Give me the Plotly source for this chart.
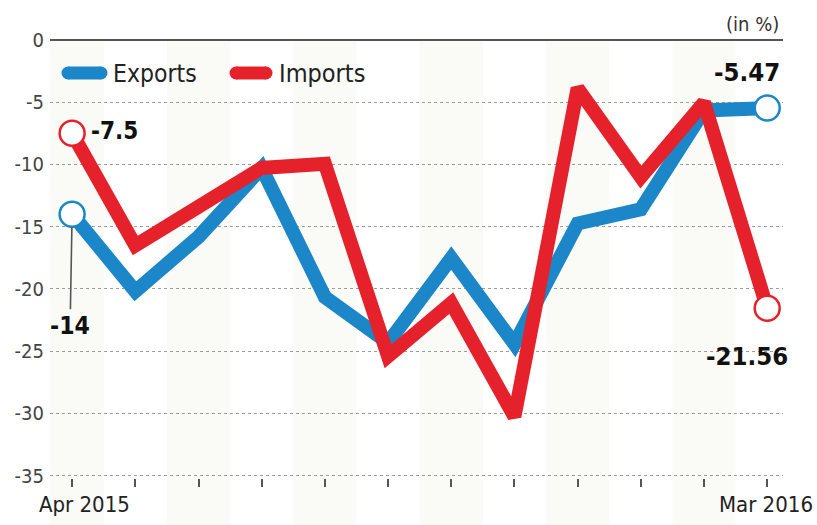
import plotly.graph_objects as go

# Monthly year-on-year growth of merchandise trade, in per cent
months = ["Apr 2015", "May 2015", "Jun 2015", "Jul 2015", "Aug 2015", "Sep 2015",
          "Oct 2015", "Nov 2015", "Dec 2015", "Jan 2016", "Feb 2016", "Mar 2016"]
exports = [-14.0, -20.19, -15.82, -10.3, -20.66, -24.33, -17.53, -24.43, -14.75, -13.6, -5.66, -5.47]
imports = [-7.5, -16.52, -13.4, -10.28, -9.95, -25.42, -21.15, -30.26, -3.88, -11.01, -5.03, -21.56]
y_ticks = [0, -5, -10, -15, -20, -25, -30, -35]

BLUE = "#1b87c9"
RED = "#e5222b"
FONT = "DejaVu Sans Condensed, Liberation Sans Narrow, Arial Narrow, sans-serif"

W, H = 817, 525
ML, MR, MT, MB = 50, 34, 38, 47
PW, PH = W - ML - MR, H - MT - MB


def px(x):
    """Horizontal pixel -> paper fraction."""
    return (x - ML) / PW


def py(y):
    """Vertical pixel -> paper fraction."""
    return (H - MB - y) / PH


idx = list(range(len(months)))
fig = go.Figure()

# Export and import growth lines (imports drawn on top)
fig.add_trace(go.Scatter(x=idx, y=exports, mode="lines", name="Exports",
                         line=dict(color=BLUE, width=14), hoverinfo="skip"))
fig.add_trace(go.Scatter(x=idx, y=imports, mode="lines", name="Imports",
                         line=dict(color=RED, width=14), hoverinfo="skip"))

# Hollow circles on the first and last month of each series
for series, col in ((exports, BLUE), (imports, RED)):
    fig.add_trace(go.Scatter(x=[idx[0], idx[-1]], y=[series[0], series[-1]], mode="markers",
                             marker=dict(symbol="circle", size=25, color="white",
                                         line=dict(color=col, width=2.5)),
                             hoverinfo="skip", showlegend=False))

shapes = []
# Faint alternating month columns
for i in idx[::2]:
    shapes.append(dict(type="rect", xref="x", yref="paper", x0=i - 0.5, x1=i + 0.5,
                       y0=py(H), y1=py(40), fillcolor="#fafaf7", line=dict(width=0),
                       layer="below"))

# Hand-drawn legend swatches with rounded ends
for x0, x1, col in ((62, 107, BLUE), (230, 272, RED)):
    yy = py(73)
    shapes.append(dict(type="line", xref="paper", yref="paper", x0=px(x0 + 6), x1=px(x1 - 6),
                       y0=yy, y1=yy, line=dict(color=col, width=13)))
    for xe in (x0 + 6, x1 - 6):
        shapes.append(dict(type="circle", xref="paper", yref="paper", xsizemode="pixel",
                           ysizemode="pixel", xanchor=px(xe), yanchor=yy,
                           x0=-6.5, x1=6.5, y0=-6.5, y1=6.5, fillcolor=col,
                           line=dict(width=0)))

annotations = [
    dict(text="Exports", x=px(111), y=py(73), xref="paper", yref="paper",
         xanchor="left", yanchor="middle", showarrow=False,
         font=dict(family=FONT, size=24.5, color="#222")),
    dict(text="Imports", x=px(277), y=py(73), xref="paper", yref="paper",
         xanchor="left", yanchor="middle", showarrow=False,
         font=dict(family=FONT, size=25, color="#222")),
    dict(text="(in %)", x=px(781), y=py(24), xref="paper", yref="paper",
         xanchor="right", yanchor="middle", showarrow=False,
         font=dict(family=FONT, size=20, color="#333")),
    # Value call-outs at the ends of the series
    dict(text=f"<b>{imports[0]:g}</b>", x=idx[0], y=imports[0], xref="x", yref="y",
         xanchor="left", yanchor="middle", xshift=17, yshift=2, showarrow=False,
         font=dict(family=FONT, size=24, color="#111")),
    dict(text=f"<b>{exports[0]:g}</b>", x=idx[0], y=exports[0], xref="x", yref="y",
         showarrow=True, arrowhead=0, arrowwidth=1.6, arrowcolor="#555",
         standoff=13, ax=-2, ay=111,
         font=dict(family=FONT, size=24.5, color="#111")),
    dict(text=f"<b>{exports[-1]:g}</b>", x=idx[-1], y=exports[-1], xref="x", yref="y",
         xanchor="center", yanchor="middle", xshift=-20, yshift=36, showarrow=False,
         font=dict(family=FONT, size=25.5, color="#111")),
    dict(text=f"<b>{imports[-1]:g}</b>", x=idx[-1], y=imports[-1], xref="x", yref="y",
         xanchor="center", yanchor="middle", xshift=-20, yshift=-48, showarrow=False,
         font=dict(family=FONT, size=25.5, color="#111")),
    # First and last month labels under the axis
    dict(text=months[0], x=idx[0], y=py(505), xref="x", yref="paper",
         xanchor="left", yanchor="middle", xshift=-35, showarrow=False,
         font=dict(family=FONT, size=22, color="#222")),
    dict(text=months[-1], x=idx[-1], y=py(505), xref="x", yref="paper",
         xanchor="right", yanchor="middle", xshift=48, showarrow=False,
         font=dict(family=FONT, size=22, color="#222")),
]

fig.update_layout(
    width=W, height=H,
    margin=dict(l=ML, r=MR, t=MT, b=MB),
    paper_bgcolor="white", plot_bgcolor="rgba(0,0,0,0)",
    showlegend=False,
    shapes=shapes,
    annotations=annotations,
    font=dict(family=FONT, color="#333"),
)
fig.update_xaxes(range=[-0.35, 11.25], tickvals=idx, showticklabels=False,
                 ticks="outside", ticklen=8, tickwidth=1.5, tickcolor="#555",
                 showgrid=False, zeroline=False, showline=False, fixedrange=True)
fig.update_yaxes(range=[-35.2, 0.16], tickvals=y_ticks, ticktext=[str(v) for v in y_ticks],
                 ticks="", ticklabelstandoff=5,
                 tickfont=dict(family=FONT, size=20, color="#444"),
                 showgrid=True, gridcolor="#9c9c9c", gridwidth=1, griddash="dot",
                 zeroline=True, zerolinecolor="#555", zerolinewidth=2,
                 showline=False, fixedrange=True)

fig.write_html("out.html", config={"displayModeBar": False})
